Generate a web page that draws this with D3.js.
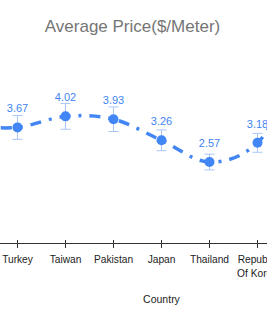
<!DOCTYPE html>
<html>
<head>
<meta charset="utf-8">
<script src="https://cdn.jsdelivr.net/npm/d3@7"></script>
<style>
  body { margin: 0; background: #fff; overflow: hidden; }
  text { font-family: "Liberation Sans", Arial, sans-serif; }
</style>
</head>
<body>
<div id="chart"></div>
<script>
// Dữ liệu (chart bị cắt: 1 nước bên trái và 2 nước bên phải nằm ngoài khung)
const countries = ["Italy", "Turkey", "Taiwan", "Pakistan", "Japan", "Thailand", "Republic Of Korea", "China", "India"];
const prices = [3.71, 3.67, 4.02, 3.93, 3.26, 2.57, 3.18, 5.36, 4.60];
const errors = [0.38, 0.38, 0.41, 0.39, 0.33, 0.25, 0.30, 0.35, 0.35];
const yTicks = [0, 1, 2, 3, 4, 5, 6];

const width = 267, height = 322;
const blue = "#4285f4";
const dashPattern = [11, 8, 3, 8];

const svg = d3.select("#chart").append("svg")
    .attr("width", width)
    .attr("height", height);

// Thang đo
const x = d3.scaleBand()
    .domain(countries)
    .range([-54.5, 377.5])
    .padding(0);

const y = d3.scaleLinear()
    .domain([d3.min(yTicks), d3.max(yTicks)])
    .range([243, 54]);

const cx = d => x(d) + x.bandwidth() / 2;
const data = countries.map((c, i) => ({ c, v: prices[i], e: errors[i] }));

// Tiêu đề
svg.append("text")
    .attr("x", 132.5)
    .attr("y", 32)
    .attr("text-anchor", "middle")
    .attr("fill", "#757575")
    .style("font-size", "17px")
    .text("Average Price($/Meter)");

// Trục X
const xAxis = svg.append("g")
    .attr("transform", `translate(0,${y(0)})`)
    .call(d3.axisBottom(x).tickSize(5).tickSizeOuter(0).tickPadding(8));
xAxis.select(".domain").attr("stroke", "#333");
xAxis.selectAll(".tick line").attr("stroke", "#333").attr("y1", -3);
xAxis.selectAll(".tick text")
    .attr("fill", "#222")
    .style("font-size", "10.2px")
    .style("font-family", "Liberation Sans, Arial, sans-serif")
    .call(wrap, x.bandwidth());

svg.append("text")
    .attr("x", (x.range()[0] + x.range()[1]) / 2)
    .attr("y", 303)
    .attr("text-anchor", "middle")
    .attr("fill", "#222")
    .style("font-size", "10.5px")
    .text("Country");

// Thanh sai số
const eb = svg.append("g").attr("stroke", "#a9c6fa").attr("stroke-width", 1);
data.forEach(d => {
    const xc = cx(d.c);
    eb.append("line").attr("x1", xc).attr("x2", xc).attr("y1", y(d.v + d.e)).attr("y2", y(d.v - d.e));
    eb.append("line").attr("x1", xc - 5).attr("x2", xc + 5).attr("y1", y(d.v + d.e)).attr("y2", y(d.v + d.e));
    eb.append("line").attr("x1", xc - 5).attr("x2", xc + 5).attr("y1", y(d.v - d.e)).attr("y2", y(d.v - d.e));
});

// Đường cong nét gạch-chấm
const line = d3.line()
    .x(d => cx(d.c))
    .y(d => y(d.v))
    .curve(d3.curveCardinal.tension(0));

const path = svg.append("path")
    .datum(data)
    .attr("fill", "none")
    .attr("stroke", blue)
    .attr("stroke-width", 3.5)
    .attr("stroke-dasharray", dashPattern.join(","))
    .attr("d", line);

// Canh pha của nét gạch: nét gạch bắt đầu ở khoảng giữa Turkey và Taiwan
const node = path.node();
let lo = 0, hi = node.getTotalLength();
const xStart = cx("Turkey") + 13;
for (let k = 0; k < 40; k++) {
    const mid = (lo + hi) / 2;
    if (node.getPointAtLength(mid).x < xStart) lo = mid; else hi = mid;
}
path.attr("stroke-dashoffset", -lo);

// Điểm
svg.selectAll(".pt")
    .data(data)
    .enter()
    .append("circle")
    .attr("class", "pt")
    .attr("cx", d => cx(d.c))
    .attr("cy", d => y(d.v))
    .attr("r", 5)
    .attr("fill", blue);

// Nhãn giá trị
svg.selectAll(".label")
    .data(data)
    .enter()
    .append("text")
    .attr("class", "label")
    .attr("x", d => cx(d.c))
    .attr("y", d => y(d.v) - 15)
    .attr("text-anchor", "middle")
    .attr("fill", blue)
    .style("font-size", "11px")
    .text(d => d.v.toFixed(2));

function wrap(texts, w) {
    texts.each(function () {
        const text = d3.select(this);
        const words = text.text().split(/\s+/);
        const yy = +text.attr("y"), dy = text.attr("dy");
        text.text(null);
        let lineArr = [], n = 0;
        let tspan = text.append("tspan").attr("x", 0).attr("y", yy).attr("dy", dy);
        words.forEach(word => {
            lineArr.push(word);
            tspan.text(lineArr.join(" "));
            if (tspan.node().getComputedTextLength() > w && lineArr.length > 1) {
                lineArr.pop();
                tspan.text(lineArr.join(" "));
                lineArr = [word];
                n++;
                tspan = text.append("tspan").attr("x", 0)
                    .attr("y", yy + n * 13.5).attr("dy", dy).text(word);
            }
        });
    });
}
</script>
</body>
</html>
